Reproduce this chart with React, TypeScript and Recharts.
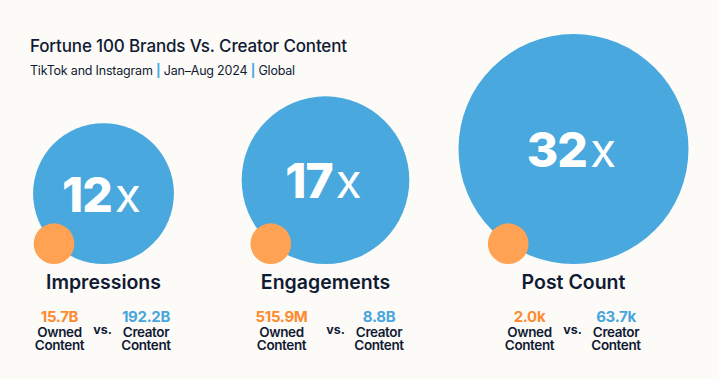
import { Scatter, ScatterChart, XAxis, YAxis, ZAxis } from "recharts";

const metrics = ["Impressions", "Engagements", "Post Count"];
const multipliers = [12, 17, 32];
const ownedValues = ["15.7B", "515.9M", "2.0k"];
const creatorValues = ["192.2B", "8.8B", "63.7k"];

const BLUE = "#49a8dd";
const ORANGE = "#ffa254";
const ORANGE_TEXT = "#ff8a2e";
const BLUE_TEXT = "#47a6de";
const NAVY = "#111a33";
const BG = "#fcfbf8";
const FONT = "Inter, 'Noto Sans', sans-serif";

// hand nudges so the panels sit where the original put them
const panelShift = [0, -13, 0];
const creatorShift = [0, 11, 0];

const blueData = metrics.map((metric, i) => ({ metric, base: 0, multiple: multipliers[i], index: i }));
const orangeData = metrics.map((metric, i) => ({ metric, base: 0, multiple: 1, ratio: multipliers[i], index: i }));

function radiusOf(props: any) {
  return props.size ? Math.sqrt(props.size / Math.PI) : props.width / 2;
}

function BlueBubble(props: any) {
  const { cx, cy, payload } = props;
  const r = radiusOf(props);
  const x = cx + panelShift[payload.index];
  const centerY = cy - r;
  return (
    <g>
      <circle cx={x} cy={centerY} r={r} fill={BLUE} />
      <text x={x - 2} y={centerY + 18} textAnchor="middle" fill="#ffffff" fontFamily={FONT}>
        <tspan fontSize={48} fontWeight={800} letterSpacing={-1}>
          {payload.multiple}
        </tspan>
        <tspan fontSize={48} fontWeight={400} dx={3}>
          x
        </tspan>
      </text>
    </g>
  );
}

function OrangeBubble(props: any) {
  const { cx, cy, payload } = props;
  const r = radiusOf(props);
  // the owned bubble sits on the rim of the creator bubble, sharing its bottom
  const bigR = r * Math.sqrt(payload.ratio);
  const dy = bigR - r;
  const dx = Math.sqrt(bigR * bigR - dy * dy);
  return <circle cx={cx + panelShift[payload.index] - dx} cy={cy - r} r={r} fill={ORANGE} />;
}

function StatBlock({ x, y, value, color, label }: { x: number; y: number; value: string; color: string; label: string }) {
  return (
    <text x={x} y={y} textAnchor="middle" fontFamily={FONT}>
      <tspan x={x} fontSize={15} fontWeight={700} fill={color} letterSpacing={-0.3}>
        {value}
      </tspan>
      <tspan x={x} dy={14.4} fontSize={13.5} fontWeight={600} fill={NAVY} letterSpacing={-0.4}>
        {label}
      </tspan>
      <tspan x={x} dy={13.3} fontSize={13.5} fontWeight={600} fill={NAVY} letterSpacing={-0.4}>
        Content
      </tspan>
    </text>
  );
}

function StatTick(props: any) {
  const { x, y, payload } = props;
  const i = metrics.indexOf(payload.value);
  const cx = x + panelShift[i];
  return (
    <g fontFamily={FONT} textAnchor="middle">
      <text x={cx} y={y + 24.7} fontSize={19.5} fontWeight={600} fill={NAVY}>
        {payload.value}
      </text>
      <StatBlock x={cx - 44} y={y + 58.3} value={ownedValues[i]} color={ORANGE_TEXT} label="Owned" />
      <text x={cx - 1 + creatorShift[i]} y={y + 70.3} fontSize={12.5} fontWeight={700} fill={NAVY}>
        vs.
      </text>
      <StatBlock x={cx + 42.5 + creatorShift[i]} y={y + 58.3} value={creatorValues[i]} color={BLUE_TEXT} label="Creator" />
    </g>
  );
}

export default function App() {
  return (
    <div style={{ position: "relative", width: 719, height: 379, background: BG }}>
      <style>{`body { margin: 0; background: ${BG}; }`}</style>
      <ScatterChart width={719} height={379} margin={{ top: 20, right: 145.5, bottom: 0, left: 103.5 }}>
        <XAxis
          dataKey="metric"
          type="category"
          scale="point"
          allowDuplicatedCategory={false}
          ticks={metrics}
          axisLine={false}
          tickLine={false}
          tickSize={0}
          tickMargin={0}
          interval={0}
          height={115}
          tick={<StatTick />}
        />
        <YAxis type="number" dataKey="base" domain={[0, 1]} hide />
        <ZAxis type="number" dataKey="multiple" domain={[0, Math.max(...multipliers)]} range={[0, Math.PI * 115 * 115]} />
        <Scatter data={blueData} shape={<BlueBubble />} isAnimationActive={false} />
        <Scatter data={orangeData} shape={<OrangeBubble />} isAnimationActive={false} />
      </ScatterChart>
      <svg width={719} height={90} style={{ position: "absolute", left: 0, top: 0 }}>
        <text x={30} y={52.3} fontFamily={FONT} fontSize={17} fontWeight={500} letterSpacing={-0.15} fill={NAVY}>
          Fortune 100 Brands Vs. Creator Content
        </text>
        <text x={30} y={75} fontFamily={FONT} fontSize={12.5} letterSpacing={-0.2} fill={NAVY}>
          TikTok and Instagram{" "}
          <tspan fill={BLUE} fontWeight={700}>|</tspan> Jan–Aug 2024{" "}
          <tspan fill={BLUE} fontWeight={700}>|</tspan> Global
        </text>
      </svg>
    </div>
  );
}
